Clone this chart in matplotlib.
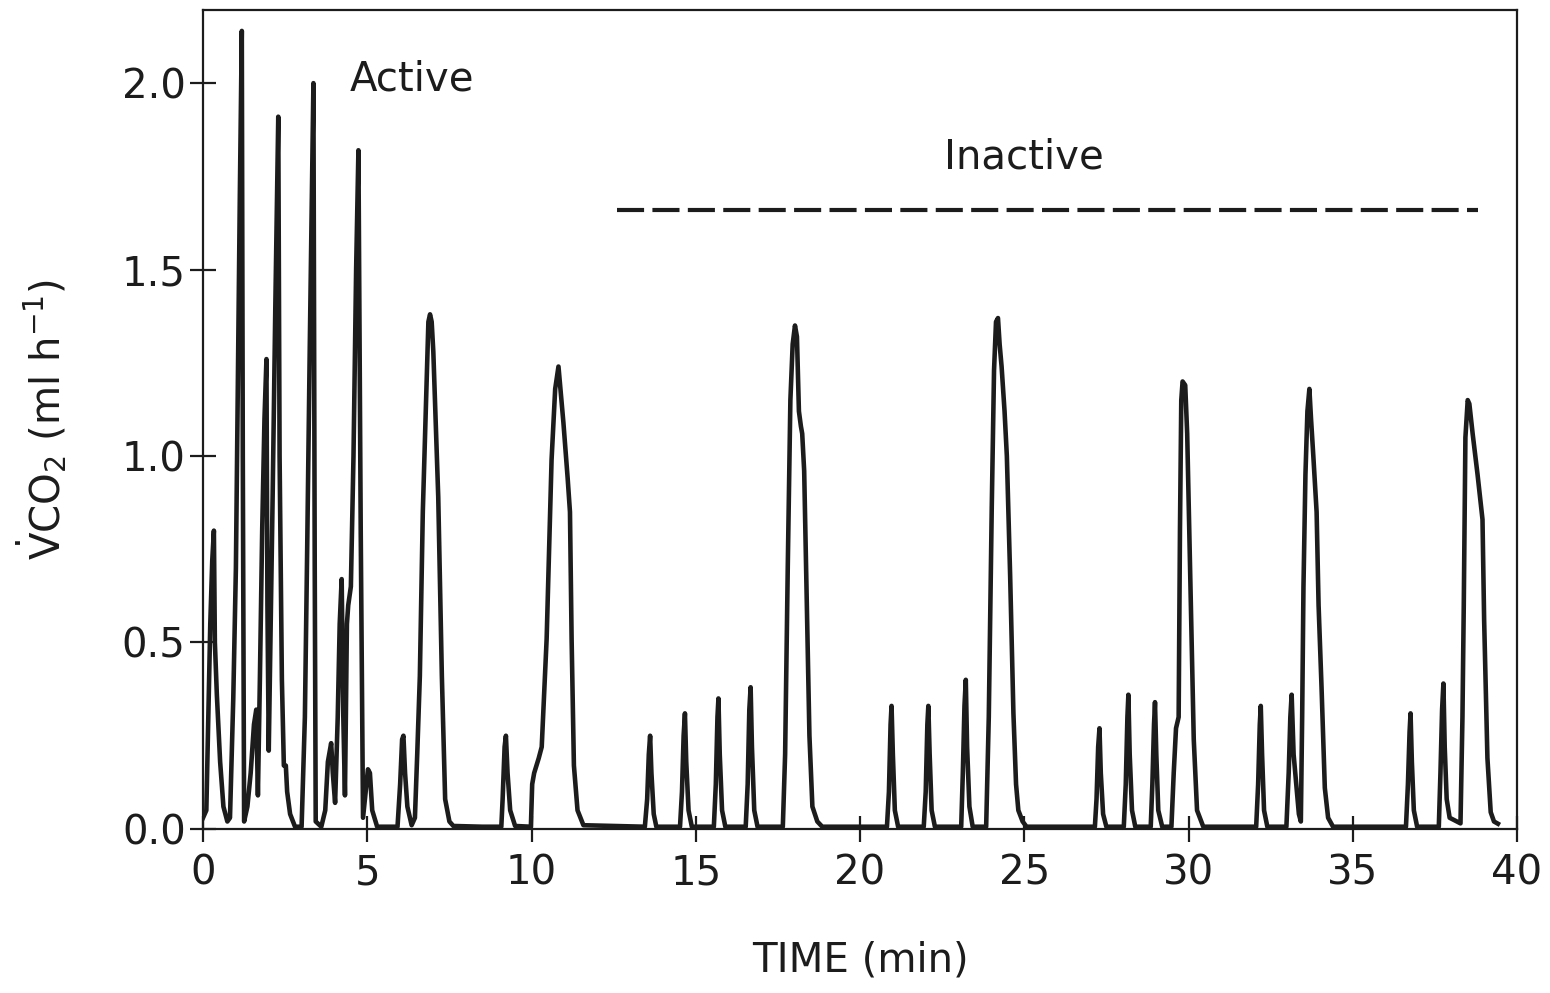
import numpy as np
import matplotlib
matplotlib.use("Agg")
import matplotlib.pyplot as plt

plt.rcParams['font.family'] = ['DejaVu Sans']
plt.rcParams['mathtext.fontset'] = 'dejavusans'

# active bout (0 - 5.4 min)
active_time = [0.00, 0.10, 0.16, 0.22, 0.28, 0.33, 0.36, 0.42, 0.52, 0.62, 0.74,
               0.82, 0.92, 1.00, 1.06, 1.12, 1.18, 1.21, 1.25,
               1.35, 1.45, 1.55, 1.62, 1.67, 1.73, 1.80, 1.87, 1.93, 1.96, 2.00,
               2.05, 2.12, 2.20, 2.29, 2.33, 2.40, 2.46, 2.52, 2.56, 2.65, 2.80,
               3.00, 3.10, 3.17, 3.25, 3.36, 3.40, 3.43, 3.60,
               3.72, 3.80, 3.90, 3.95, 4.02, 4.10, 4.16, 4.22, 4.27, 4.32,
               4.38, 4.42, 4.50, 4.58, 4.66, 4.73, 4.80, 4.87, 4.95, 5.02, 5.08,
               5.15, 5.30]
active_vco2 = [0.03, 0.05, 0.30, 0.55, 0.72, 0.80, 0.50, 0.36, 0.18, 0.06, 0.02,
               0.03, 0.35, 0.70, 1.20, 1.70, 2.14, 1.00, 0.02,
               0.06, 0.15, 0.28, 0.32, 0.09, 0.40, 0.80, 1.10, 1.26, 0.60, 0.21,
               0.50, 0.90, 1.40, 1.91, 1.00, 0.40, 0.17, 0.17, 0.10, 0.04, 0.006,
               0.006, 0.30, 0.75, 1.30, 2.00, 0.70, 0.02, 0.006,
               0.05, 0.18, 0.23, 0.15, 0.07, 0.30, 0.55, 0.67, 0.30, 0.09,
               0.55, 0.60, 0.65, 1.00, 1.50, 1.82, 0.80, 0.03, 0.10, 0.16, 0.15,
               0.05, 0.006]

# inactive period (5.4 - 39.4 min)
inactive_time = [5.92, 6.00, 6.06, 6.10, 6.15, 6.22, 6.35,
                 6.45, 6.52, 6.60, 6.69, 6.81, 6.86, 6.91, 6.96, 7.01, 7.16, 7.27, 7.37, 7.50, 7.62,
                 8.50, 9.08, 9.12, 9.18, 9.22, 9.27, 9.35, 9.50,
                 9.98, 10.02, 10.08, 10.15, 10.22, 10.31, 10.46, 10.61, 10.72, 10.82, 10.97,
                 11.10, 11.17, 11.22, 11.29, 11.40, 11.58,
                 13.45, 13.52, 13.57, 13.61, 13.65, 13.72, 13.80,
                 14.52, 14.58, 14.63, 14.67, 14.71, 14.78, 14.88,
                 15.55, 15.61, 15.66, 15.69, 15.73, 15.80, 15.90,
                 16.52, 16.58, 16.63, 16.67, 16.71, 16.78, 16.88,
                 17.65, 17.72, 17.80, 17.88, 17.95, 18.02, 18.08, 18.14, 18.20, 18.24,
                 18.30, 18.38, 18.46, 18.55, 18.70, 18.85,
                 20.82, 20.88, 20.93, 20.96, 21.00, 21.06, 21.16,
                 21.94, 22.00, 22.05, 22.08, 22.12, 22.18, 22.28,
                 23.08, 23.13, 23.18, 23.22, 23.26, 23.33, 23.43,
                 23.84, 23.92, 24.01, 24.08, 24.14, 24.20, 24.25, 24.31, 24.40, 24.47,
                 24.57, 24.67, 24.75, 24.82, 24.95, 25.07,
                 27.15, 27.20, 27.25, 27.29, 27.33, 27.40, 27.50,
                 28.03, 28.09, 28.14, 28.17, 28.21, 28.28, 28.38,
                 28.85, 28.90, 28.95, 28.98, 29.02, 29.08, 29.20,
                 29.48, 29.55, 29.62, 29.70, 29.74, 29.78, 29.82, 29.90, 29.96, 30.06,
                 30.16, 30.26, 30.45,
                 32.06, 32.12, 32.17, 32.20, 32.24, 32.30, 32.40,
                 32.98, 33.05, 33.10, 33.14, 33.20, 33.28, 33.36, 33.42,
                 33.46, 33.50, 33.56, 33.62, 33.68, 33.73, 33.80, 33.90, 33.96, 34.05,
                 34.15, 34.25, 34.40,
                 36.62, 36.68, 36.73, 36.76, 36.80, 36.86, 36.96,
                 37.62, 37.67, 37.72, 37.76, 37.80, 37.86, 37.95, 38.28,
                 38.34, 38.38, 38.43, 38.50, 38.55, 38.65, 38.80, 38.95, 39.00, 39.10,
                 39.20, 39.30, 39.42]
inactive_vco2 = [0.006, 0.12, 0.24, 0.25, 0.15, 0.06, 0.01,
                 0.03, 0.20, 0.41, 0.85, 1.21, 1.36, 1.38, 1.36, 1.28, 0.89, 0.41, 0.08, 0.02, 0.008,
                 0.006, 0.006, 0.08, 0.22, 0.25, 0.15, 0.05, 0.008,
                 0.006, 0.12, 0.15, 0.17, 0.19, 0.22, 0.51, 0.99, 1.18, 1.24, 1.09,
                 0.94, 0.85, 0.51, 0.17, 0.05, 0.01,
                 0.006, 0.08, 0.20, 0.25, 0.15, 0.04, 0.006,
                 0.006, 0.10, 0.25, 0.31, 0.18, 0.05, 0.006,
                 0.006, 0.12, 0.30, 0.35, 0.20, 0.05, 0.006,
                 0.006, 0.12, 0.32, 0.38, 0.22, 0.05, 0.006,
                 0.006, 0.20, 0.70, 1.15, 1.30, 1.35, 1.32, 1.12, 1.08, 1.06,
                 0.96, 0.60, 0.25, 0.06, 0.02, 0.006,
                 0.006, 0.10, 0.28, 0.33, 0.20, 0.05, 0.006,
                 0.006, 0.10, 0.28, 0.33, 0.20, 0.05, 0.006,
                 0.006, 0.15, 0.33, 0.40, 0.22, 0.06, 0.006,
                 0.006, 0.30, 0.86, 1.23, 1.36, 1.37, 1.30, 1.24, 1.12, 1.00,
                 0.68, 0.31, 0.12, 0.05, 0.02, 0.006,
                 0.006, 0.08, 0.22, 0.27, 0.15, 0.04, 0.006,
                 0.006, 0.12, 0.30, 0.36, 0.20, 0.05, 0.006,
                 0.006, 0.12, 0.28, 0.34, 0.20, 0.05, 0.006,
                 0.006, 0.15, 0.27, 0.30, 0.80, 1.15, 1.20, 1.19, 1.06, 0.65,
                 0.24, 0.05, 0.006,
                 0.006, 0.12, 0.28, 0.33, 0.20, 0.05, 0.006,
                 0.006, 0.15, 0.30, 0.36, 0.20, 0.12, 0.04, 0.02,
                 0.30, 0.65, 0.95, 1.12, 1.18, 1.10, 1.00, 0.85, 0.60, 0.38,
                 0.11, 0.03, 0.006,
                 0.006, 0.12, 0.26, 0.31, 0.18, 0.05, 0.006,
                 0.006, 0.15, 0.32, 0.39, 0.22, 0.08, 0.03, 0.015,
                 0.30, 0.60, 1.05, 1.15, 1.14, 1.06, 0.95, 0.83, 0.56, 0.19,
                 0.045, 0.02, 0.014]

inactive_bar_start = 12.6
inactive_bar_end = 38.8
inactive_bar_level = 1.66

x_ticks = [0, 5, 10, 15, 20, 25, 30, 35, 40]
y_ticks = [0.0, 0.5, 1.0, 1.5, 2.0]

time_min = np.array(active_time + inactive_time)
vco2 = np.array(active_vco2 + inactive_vco2)

fig = plt.figure(figsize=(15.5, 9.93), dpi=100)
ax = fig.add_axes([0.131, 0.1652, 0.8477, 0.8247])

ink = '#1c1c1c'
ax.plot(time_min, vco2, color=ink, lw=3.3, solid_joinstyle='round')
ax.plot([inactive_bar_start, inactive_bar_end], [inactive_bar_level] * 2,
        color=ink, lw=3.0, linestyle=(0, (6.5, 2.0)))

ax.text(6.36, 2.01, "Active", fontsize=29, ha='center', va='center', color=ink)
ax.text(25.0, 1.80, "Inactive", fontsize=29, ha='center', va='center', color=ink)

ax.set_xlim(0, 40)
ax.set_ylim(0, 2.196)
ax.set_xticks(x_ticks)
ax.set_yticks(y_ticks)
ax.set_xticklabels([str(t) for t in x_ticks])
ax.set_yticklabels([f"{t:.1f}" for t in y_ticks])

for s in ax.spines.values():
    s.set_linewidth(1.6)
    s.set_color(ink)
ax.tick_params(axis='both', direction='inout', length=19, width=1.6,
               colors=ink, labelsize=29)
ax.tick_params(axis='x', pad=8)
ax.tick_params(axis='y', pad=3)

ax.set_xlabel("TIME (min)", fontsize=29, color=ink, labelpad=34)
ax.set_ylabel(r'$\dot{\mathrm{V}}\mathrm{CO_2}$ (ml h$^{-1}$)', fontsize=29,
              color=ink, labelpad=38)

fig.savefig("out.png", dpi=100)
